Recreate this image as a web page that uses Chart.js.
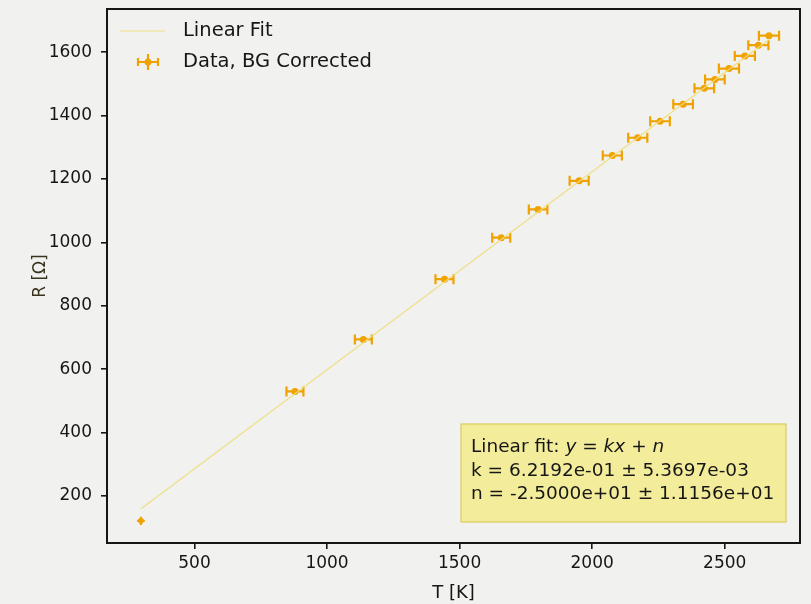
<!DOCTYPE html>
<html>
<head>
<meta charset="utf-8">
<script src="https://cdn.jsdelivr.net/npm/chart.js@4/dist/chart.umd.min.js"></script>
<style>
  html, body { margin: 0; padding: 0; background: #f1f1ef; }
  #wrap { width: 811px; height: 604px; }
</style>
</head>
<body>
<div id="wrap"><canvas id="chart" width="811" height="604"></canvas></div>
<script>
// measured temperature (K) and resistance (Ohm), background corrected
const temps = [298, 879, 1137, 1443, 1657, 1796, 1951, 2076, 2172, 2256, 2343, 2423, 2463, 2516, 2576, 2627, 2667];
const resist = [122, 530, 694, 884, 1015, 1104, 1194, 1274, 1330, 1382, 1436, 1486, 1514, 1548, 1588, 1622, 1652];
const tempErr = [14, 32, 32, 34, 34, 35, 36, 36, 36, 37, 37, 37, 37, 38, 38, 38, 38];
const resistErr = [13, 4, 4, 4, 4, 4, 4, 4, 4, 4, 4, 4, 4, 4, 4, 4, 4];

// fitted line end points
const fitT = [298, 2667];
const fitR = [160, 1640];

const xTicks = [500, 1000, 1500, 2000, 2500];
const yTicks = [200, 400, 600, 800, 1000, 1200, 1400, 1600];

const fitLines = [
  'Linear fit: ',
  'k = 6.2192e-01 ± 5.3697e-03',
  'n = -2.5000e+01 ± 1.1156e+01',
];

const ORANGE = '#f0a200';
const FIT = 'rgba(238, 222, 120, 0.9)';
const FONT = '"DejaVu Sans", sans-serif';
const INK = '#161616';

function drawErrBar(ctx, x, y, x0, x1, y0, y1, cap) {
  ctx.beginPath();
  ctx.moveTo(x0, y); ctx.lineTo(x1, y);
  ctx.moveTo(x, y0); ctx.lineTo(x, y1);
  if (cap) {
    ctx.moveTo(x0, y - cap); ctx.lineTo(x0, y + cap);
    ctx.moveTo(x1, y - cap); ctx.lineTo(x1, y + cap);
  }
  ctx.stroke();
}

const errorBars = {
  id: 'errorBars',
  beforeDatasetDraw(chart, args) {
    if (args.index !== 1) return;
    const { ctx, scales: { x, y } } = chart;
    ctx.save();
    ctx.strokeStyle = ORANGE;
    ctx.lineWidth = 2.2;
    temps.forEach((t, i) => {
      const px = x.getPixelForValue(t);
      const py = y.getPixelForValue(resist[i]);
      const cap = i === 0 ? 0 : 5;
      drawErrBar(ctx, px, py,
        x.getPixelForValue(t - tempErr[i]), x.getPixelForValue(t + tempErr[i]),
        y.getPixelForValue(resist[i] - resistErr[i]), y.getPixelForValue(resist[i] + resistErr[i]),
        cap);
    });
    ctx.restore();
  },
};

const decorations = {
  id: 'decorations',
  afterDraw(chart) {
    const { ctx, chartArea: a } = chart;
    ctx.save();
    // axes frame
    ctx.strokeStyle = INK;
    ctx.lineWidth = 2;
    ctx.strokeRect(a.left, a.top, a.right - a.left, a.bottom - a.top);

    // legend
    ctx.font = '19.5px ' + FONT;
    ctx.textBaseline = 'middle';
    ctx.strokeStyle = FIT;
    ctx.lineWidth = 1.2;
    ctx.beginPath();
    ctx.moveTo(a.left + 13, a.top + 22);
    ctx.lineTo(a.left + 58, a.top + 22);
    ctx.stroke();
    ctx.fillStyle = INK;
    ctx.fillText('Linear Fit', a.left + 76, a.top + 22);
    ctx.strokeStyle = ORANGE;
    ctx.lineWidth = 2.2;
    drawErrBar(ctx, a.left + 41, a.top + 53, a.left + 31, a.left + 51, a.top + 45, a.top + 61, 4);
    ctx.fillStyle = ORANGE;
    ctx.beginPath();
    ctx.arc(a.left + 41, a.top + 53, 3.5, 0, Math.PI * 2);
    ctx.fill();
    ctx.fillStyle = INK;
    ctx.fillText('Data, BG Corrected', a.left + 76, a.top + 53);

    // fit result box
    const bx = 461, by = 424, bw = 325, bh = 98;
    ctx.fillStyle = 'rgba(243, 236, 140, 0.85)';
    ctx.fillRect(bx, by, bw, bh);
    ctx.strokeStyle = '#d9cc5a';
    ctx.lineWidth = 1.2;
    ctx.strokeRect(bx, by, bw, bh);
    ctx.fillStyle = INK;
    const fs = '18.5px ' + FONT;
    ctx.font = fs;
    ctx.textBaseline = 'middle';
    let tx = bx + 10;
    ctx.fillText(fitLines[0], tx, by + 23);
    tx += ctx.measureText(fitLines[0]).width;
    const parts = [['y', true], [' = ', false], ['kx', true], [' + ', false], ['n', true]];
    parts.forEach(([s, it]) => {
      ctx.font = (it ? 'italic ' : '') + fs;
      ctx.fillText(s, tx, by + 23);
      tx += ctx.measureText(s).width;
    });
    ctx.font = fs;
    ctx.fillText(fitLines[1], bx + 10, by + 47);
    ctx.fillText(fitLines[2], bx + 10, by + 70);
    ctx.restore();
  },
};

new Chart(document.getElementById('chart'), {
  type: 'scatter',
  data: {
    datasets: [
      {
        label: 'Linear Fit',
        type: 'line',
        data: fitT.map((t, i) => ({ x: t, y: fitR[i] })),
        borderColor: FIT,
        borderWidth: 1.2,
        pointRadius: 0,
        fill: false,
      },
      {
        label: 'Data, BG Corrected',
        data: temps.map((t, i) => ({ x: t, y: resist[i] })),
        backgroundColor: ORANGE,
        borderColor: ORANGE,
        pointRadius: (c) => (c.dataIndex === 0 ? 4 : 3.5),
        pointStyle: (c) => (c.dataIndex === 0 ? 'rectRot' : 'circle'),
        borderWidth: 0,
      },
    ],
  },
  options: {
    responsive: false,
    animation: false,
    layout: { padding: { left: 0, right: 11, top: 0, bottom: 0 } },
    plugins: {
      legend: { display: false },
      tooltip: { enabled: false },
    },
    scales: {
      x: {
        type: 'linear',
        min: 170,
        max: 2784,
        afterBuildTicks: (s) => { s.ticks = xTicks.map((v) => ({ value: v })); },
        afterFit: (s) => { s.height = 61; },
        grid: { drawOnChartArea: false, drawTicks: true, tickLength: 6, color: INK, lineWidth: 1.6 },
        border: { display: false },
        ticks: { color: INK, font: { family: FONT, size: 17 }, padding: 4, maxRotation: 0, callback: (v) => String(v) },
        title: { display: true, text: 'T [K]', color: INK, font: { family: FONT, size: 18 }, padding: { top: 0, bottom: 0 } },
      },
      y: {
        type: 'linear',
        min: 52,
        max: 1736,
        afterBuildTicks: (s) => { s.ticks = yTicks.map((v) => ({ value: v })); },
        afterFit: (s) => { s.width = 107; s.paddingTop = 9; },
        grid: { drawOnChartArea: false, drawTicks: true, tickLength: 6, color: INK, lineWidth: 1.6 },
        border: { display: false },
        ticks: { color: INK, font: { family: FONT, size: 17 }, padding: 9, callback: (v) => String(v) },
        title: { display: true, text: 'R [Ω]', color: '#3a3320', font: { family: FONT, size: 17 }, padding: { top: 30, bottom: 0 } },
      },
    },
  },
  plugins: [errorBars, decorations],
});
</script>
</body>
</html>
